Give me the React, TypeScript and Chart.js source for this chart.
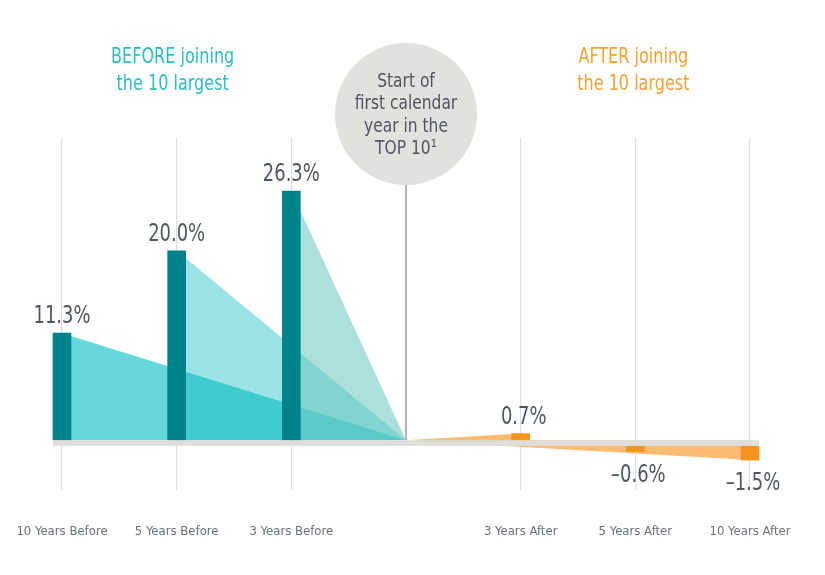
import React, { useEffect, useRef } from "react";
import { Chart, registerables } from "chart.js";

Chart.register(...registerables);

const categories = [
  "10 Years Before",
  "5 Years Before",
  "3 Years Before",
  "",
  "3 Years After",
  "5 Years After",
  "10 Years After",
];
const beforeValues = [11.3, 20.0, 26.3];
const afterValues = [0.7, -0.6, -1.5];
const circleLines = ["Start of", "first calendar", "year in the", "TOP 10\u00B9"];
const beforeTitle = ["BEFORE joining", "the 10 largest"];
const afterTitle = ["AFTER joining", "the 10 largest"];

const FONT = "'Liberation Sans Narrow', 'DejaVu Sans Condensed', 'Roboto Condensed', 'Liberation Sans', sans-serif";
const BAND = 0.6; // visual thickness of the zero band, in value units
const TEAL_BAR = "#00838A";
const ORANGE_BAR = "#F7941D";
const ORANGE_LIGHT = "#FCBB70";
const TRI_COLORS = ["rgba(0,190,195,0.6)", "rgba(5,185,190,0.4)", "rgba(114,202,195,0.58)"];
const TEXT_DARK = "#4E5661";

const CENTER = categories[3];

function fmt(v: number) {
  return (v < 0 ? "\u2013" + Math.abs(v).toFixed(1) : v.toFixed(1)) + "%";
}

function drawText(ctx: CanvasRenderingContext2D, t: string, x: number, y: number, sx: number) {
  ctx.save();
  ctx.translate(x, y);
  ctx.scale(sx, 1);
  ctx.fillText(t, 0, 0);
  ctx.restore();
}

export default function App() {
  const ref = useRef<HTMLCanvasElement | null>(null);

  useEffect(() => {
    if (!ref.current) return;
    const allValues: (number | null)[] = [...beforeValues, null, ...afterValues];
    const barData = allValues.map((v) =>
      v === null ? null : v >= 0 ? [0, v] : [-BAND, v - BAND]
    );
    const barColors = allValues.map((_, i) => (i < 3 ? TEAL_BAR : ORANGE_BAR));

    const triangles: any[] = [];
    beforeValues.forEach((v, i) => {
      triangles.push({
        type: "line",
        data: [
          { x: categories[i], y: v },
          { x: CENTER, y: 0 },
        ],
        fill: "origin",
        backgroundColor: TRI_COLORS[i],
        borderWidth: 0,
        pointRadius: 0,
        clip: false,
        order: 10 - i,
      });
    });
    afterValues.forEach((v, i) => {
      triangles.push({
        type: "line",
        data: [
          { x: CENTER, y: 0 },
          { x: categories[4 + i], y: v >= 0 ? v : v - BAND },
        ],
        fill: "origin",
        backgroundColor: ORANGE_LIGHT,
        borderWidth: 0,
        pointRadius: 0,
        clip: false,
        order: 5 - i,
      });
    });

    const decor = {
      id: "decor",
      beforeDatasetsDraw(chart: any) {
        const { ctx, scales } = chart;
        const x = scales.x, y = scales.y;
        const cx = x.getPixelForValue(3);
        ctx.save();
        ctx.strokeStyle = "#B4B4B4";
        ctx.lineWidth = 2;
        ctx.beginPath();
        ctx.moveTo(cx, chart.chartArea.top + 40);
        ctx.lineTo(cx, y.getPixelForValue(0));
        ctx.stroke();
        ctx.restore();
      },
      afterDatasetsDraw(chart: any) {
        const { ctx, scales } = chart;
        const x = scales.x, y = scales.y;
        const x0 = x.getPixelForValue(0) - 9;
        const x1 = x.getPixelForValue(6) + 9;
        const y0 = y.getPixelForValue(0);
        const y1 = y.getPixelForValue(-BAND);
        ctx.save();
        ctx.fillStyle = "#DEDEDC";
        ctx.fillRect(x0, y0, x1 - x0, y1 - y0);
        ctx.restore();
      },
      afterDraw(chart: any) {
        const { ctx, scales } = chart;
        const x = scales.x, y = scales.y;
        ctx.save();
        // circle
        const cx = x.getPixelForValue(3);
        const cy = 106;
        ctx.fillStyle = "#E3E1DD";
        ctx.beginPath();
        ctx.arc(cx, cy, 71, 0, Math.PI * 2);
        ctx.fill();
        ctx.fillStyle = TEXT_DARK;
        ctx.font = `20px ${FONT}`;
        ctx.textAlign = "center";
        ctx.textBaseline = "alphabetic";
        const baselines = [79, 101, 124, 146];
        circleLines.forEach((t, i) => drawText(ctx, t, cx, baselines[i], 0.86));
        // titles
        ctx.font = `21px ${FONT}`;
        ctx.fillStyle = "#2CBCC4";
        const bx = (x.getPixelForValue(0) + x.getPixelForValue(2)) / 2 - 4;
        drawText(ctx, beforeTitle[0], bx, 55, 0.85);
        drawText(ctx, beforeTitle[1], bx, 82, 0.85);
        ctx.fillStyle = "#F7A134";
        const ax = (x.getPixelForValue(4) + x.getPixelForValue(6)) / 2 - 2;
        drawText(ctx, afterTitle[0], ax, 55, 0.85);
        drawText(ctx, afterTitle[1], ax, 82, 0.85);
        // value labels
        ctx.fillStyle = TEXT_DARK;
        ctx.font = `24px ${FONT}`;
        allValues.forEach((v, i) => {
          if (v === null) return;
          const px = x.getPixelForValue(i);
          if (v >= 0) {
            drawText(ctx, fmt(v), px + (i > 3 ? 3 : 0), y.getPixelForValue(v) - 10, 0.83);
          } else {
            drawText(ctx, fmt(v), px + 3, y.getPixelForValue(v - BAND) + 30, 0.83);
          }
        });
        ctx.restore();
      },
    };

    const chart = new Chart(ref.current, {
      data: {
        labels: categories,
        datasets: [
          {
            type: "bar",
            data: barData as any,
            backgroundColor: barColors,
            barThickness: 18,
            borderWidth: 0,
            clip: false,
            order: 0,
          },
          ...triangles,
        ],
      },
      options: {
        animation: false,
        responsive: true,
        maintainAspectRatio: false,
        clip: false,
        layout: { padding: { left: 54, right: 67, top: 130, bottom: 26 } },
        plugins: { legend: { display: false }, tooltip: { enabled: false } },
        scales: {
          x: {
            type: "category",
            offset: false,
            border: { display: false },
            grid: {
              offset: false,
              color: (c: any) => (c.index === 3 ? "rgba(0,0,0,0)" : "#DCDEE2"),
              lineWidth: 1.2,
              drawTicks: true,
              tickLength: 31,
              tickColor: "rgba(0,0,0,0)",
            },
            ticks: {
              color: "#6B717A",
              font: { family: FONT, size: 13 },
              padding: 2,
              maxRotation: 0,
              autoSkip: false,
            },
          },
          y: {
            display: false,
            min: -5.3,
            max: 31.9,
          },
        },
      } as any,
      plugins: [decor],
    });
    return () => chart.destroy();
  }, []);

  return (
    <div style={{ position: "relative", height: 559 }}>
      <canvas ref={ref} />
    </div>
  );
}
